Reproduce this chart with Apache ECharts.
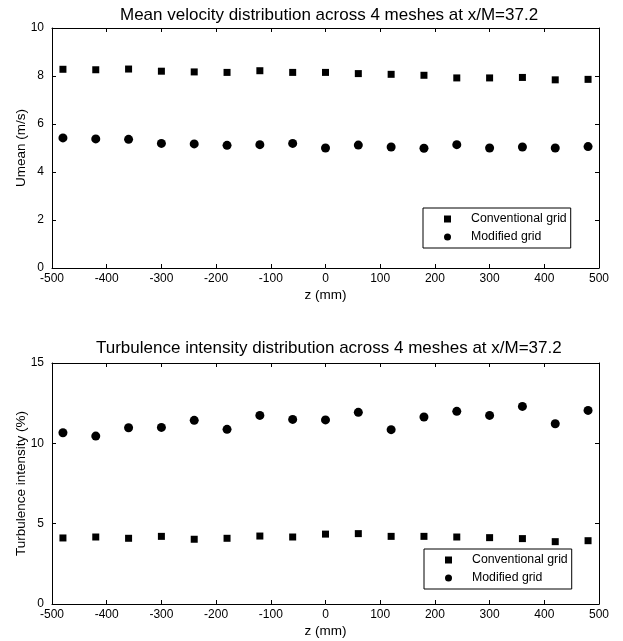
<!DOCTYPE html>
<html>
<head>
<meta charset="utf-8">
<script src="https://cdn.jsdelivr.net/npm/echarts@6/dist/echarts.min.js"></script>
<style>html,body{margin:0;padding:0;background:#fff}#c{width:623px;height:641px}</style>
</head>
<body>
<div id="c"></div>
<script>
const zPositions = [-480,-420,-360,-300,-240,-180,-120,-60,0,60,120,180,240,300,360,420,480];
const umeanConventional = [8.28,8.26,8.29,8.20,8.17,8.15,8.22,8.15,8.15,8.10,8.07,8.03,7.92,7.92,7.94,7.84,7.86];
const umeanModified = [5.42,5.38,5.36,5.19,5.17,5.11,5.14,5.19,5.00,5.12,5.04,4.99,5.14,5.00,5.04,5.00,5.06];
const tiConventional = [4.11,4.17,4.09,4.21,4.03,4.09,4.23,4.17,4.35,4.38,4.21,4.21,4.17,4.13,4.07,3.88,3.94];
const tiModified = [10.66,10.45,10.97,10.99,11.43,10.87,11.74,11.49,11.46,11.93,10.85,11.64,11.99,11.74,12.30,11.22,12.05];
const seriesNames = ['Conventional grid','Modified grid'];
const titles = ['Mean velocity distribution across 4 meshes at x/M=37.2','Turbulence intensity distribution across 4 meshes at x/M=37.2'];
const yNames = ['Umean (m/s)','Turbulence intensity (%)'];
const xName = 'z (mm)';

const FONT = 'Liberation Sans, Arial, sans-serif';
const chart = echarts.init(document.getElementById('c'), null, {renderer:'canvas'});
const lineStyle = {color:'#000', width:1};
function xAxes(gi){
  return [
    {gridIndex:gi, type:'value', min:-500, max:500, interval:100, position:'bottom',
     name:xName, nameLocation:'middle', nameGap:20, nameMoveOverlap:false, nameTextStyle:{color:'#000',fontSize:13.5,fontFamily:FONT},
     axisLine:{show:true,onZero:false,lineStyle}, axisTick:{show:true,inside:true,length:4,lineStyle},
     axisLabel:{color:'#000',fontSize:12,fontFamily:FONT,margin:5}, splitLine:{show:false}},
    {gridIndex:gi, type:'value', min:-500, max:500, interval:100, position:'top',
     axisLine:{show:true,onZero:false,lineStyle}, axisTick:{show:true,inside:true,length:4,lineStyle},
     axisLabel:{show:false}, splitLine:{show:false}}
  ];
}
function yAxes(gi, max, interval){
  return [
    {gridIndex:gi, type:'value', min:0, max:max, interval:interval, position:'left',
     name:yNames[gi], nameLocation:'middle', nameGap:24, nameMoveOverlap:false, nameTextStyle:{color:'#000',fontSize:13.5,fontFamily:FONT},
     axisLine:{show:true,onZero:false,lineStyle}, axisTick:{show:true,inside:true,length:4,lineStyle},
     axisLabel:{color:'#000',fontSize:12,fontFamily:FONT,margin:8}, splitLine:{show:false}},
    {gridIndex:gi, type:'value', min:0, max:max, interval:interval, position:'right',
     axisLine:{show:true,onZero:false,lineStyle}, axisTick:{show:true,inside:true,length:4,lineStyle},
     axisLabel:{show:false}, splitLine:{show:false}}
  ];
}
function pairs(vals){ return zPositions.map((z,i)=>[z,vals[i]]); }
function legend(left, top){
  return {left:left, top:top, orient:'vertical', borderColor:'#000', borderWidth:1,
    backgroundColor:'#fff', padding:[5,4,5,21], itemGap:6, itemWidth:7, itemHeight:7,
    textStyle:{color:'#000',fontSize:12.3,fontFamily:FONT,padding:[0,0,0,15]},
    selectedMode:false,
    data:[{name:seriesNames[0],icon:'rect'},{name:seriesNames[1],icon:'circle'}]};
}
const markStyle = {color:'#000', opacity:1};
const option = {
  animation:false,
  backgroundColor:'#fff',
  title:[
    {text:titles[0], left:115, top:2, textStyle:{color:'#000',fontSize:17,fontWeight:'normal',fontFamily:FONT}},
    {text:titles[1], left:91, top:335, textStyle:{color:'#000',fontSize:17,fontWeight:'normal',fontFamily:FONT}}
  ],
  grid:[
    {left:52, right:24, top:28, height:240},
    {left:52, right:24, top:363, height:241}
  ],
  xAxis:[...xAxes(0), ...xAxes(1)],
  yAxis:[...yAxes(0,10,2), ...yAxes(1,15,5)],
  legend:[legend(423,208), legend(424,549)],
  series:[
    {name:seriesNames[0], type:'scatter', xAxisIndex:0, yAxisIndex:0, symbol:'rect', symbolSize:7, itemStyle:markStyle, data:pairs(umeanConventional)},
    {name:seriesNames[1], type:'scatter', xAxisIndex:0, yAxisIndex:0, symbol:'circle', symbolSize:9, itemStyle:markStyle, data:pairs(umeanModified)},
    {name:seriesNames[0], type:'scatter', xAxisIndex:2, yAxisIndex:2, symbol:'rect', symbolSize:7, itemStyle:markStyle, data:pairs(tiConventional)},
    {name:seriesNames[1], type:'scatter', xAxisIndex:2, yAxisIndex:2, symbol:'circle', symbolSize:9, itemStyle:markStyle, data:pairs(tiModified)}
  ]
};
chart.setOption(option);
</script>
</body>
</html>
